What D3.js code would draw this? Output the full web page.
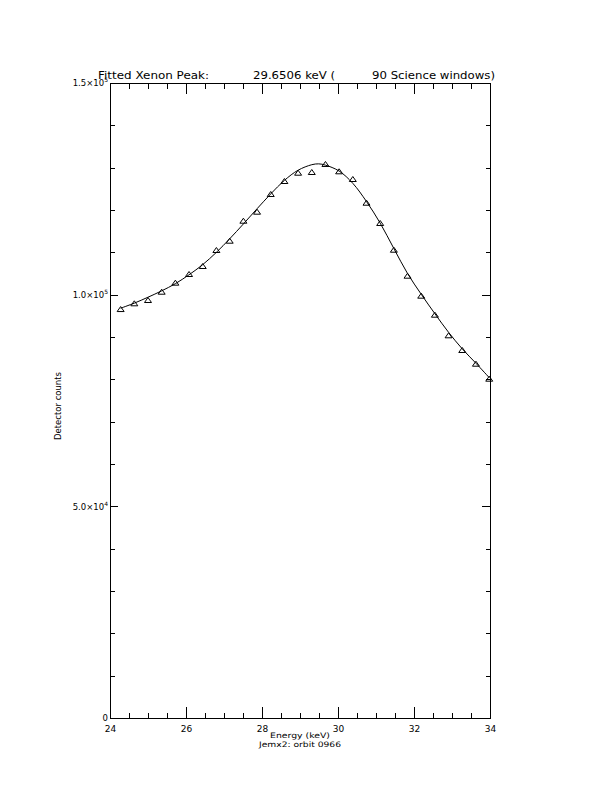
<!DOCTYPE html>
<html><head><meta charset="utf-8">
<script src="https://cdn.jsdelivr.net/npm/d3@7"></script>
<style>
body{margin:0;background:#fff;}
svg{display:block;}
text{font-family:"DejaVu Sans",sans-serif;fill:#000;}
</style></head>
<body>
<svg id="c" width="612" height="792"></svg>
<script>
// ---- data ----
const energies = [24.28,24.64,25.00,25.36,25.72,26.08,26.44,26.80,27.15,27.51,27.87,28.23,28.59,28.95,29.31,29.67,30.03,30.39,30.75,31.11,31.47,31.83,32.19,32.55,32.91,33.27,33.63,33.98];
const counts = [96600,97960,98740,100700,102830,104880,106770,110550,112750,117470,119600,123780,126850,128810,128980,130870,129140,127320,121720,116930,110620,104480,99760,95270,90400,86930,83690,80150];
const fitEnergies = [24.28,24.64,25.00,25.36,25.72,26.08,26.44,26.80,27.15,27.51,27.87,28.23,28.59,28.95,29.31,29.49,29.67,30.03,30.39,30.75,31.11,31.47,31.83,32.19,32.55,32.91,33.27,33.63,33.98];
const fitCounts = [96800,98000,99400,100900,102600,104700,107100,110000,113200,116700,120300,123800,127000,129400,130700,130900,130600,129200,126300,122000,116900,110900,105000,100100,95500,91100,87200,83800,80400];
const xMajor = [24,26,28,30,32,34];
const xMinor = [24.5,25,25.5,26.5,27,27.5,28.5,29,29.5,30.5,31,31.5,32.5,33,33.5];
const yMajor = [0,50000,100000,150000];
const yMajorLabels = [["0",""],["5.0\u00d710","4"],["1.0\u00d710","5"],["1.5\u00d710","5"]];
const yMinor = [10000,20000,30000,40000,60000,70000,80000,90000,110000,120000,130000,140000];

const svg = d3.select("#c");
const L=110,R=490,T=83,B=718;
const x = d3.scaleLinear().domain([24,34]).range([L,R]);
const y = d3.scaleLinear().domain([0,150000]).range([B,T]);

function strip(g){g.select(".domain").remove();g.selectAll("line").attr("stroke","#000").attr("shape-rendering","crispEdges");}

// bottom
const gb = svg.append("g").attr("transform",`translate(0,${B})`)
  .call(d3.axisBottom(x).tickValues(xMajor).tickSize(-11).tickPadding(7.5).tickFormat(d3.format("d")));
strip(gb); gb.selectAll("text").attr("font-size",9).attr("font-family","DejaVu Sans").attr("fill","#000");
const gbm = svg.append("g").attr("transform",`translate(0,${B})`)
  .call(d3.axisBottom(x).tickValues(xMinor).tickSize(-5.5).tickFormat(""));
strip(gbm);
// top
const gt = svg.append("g").attr("transform",`translate(0,${T})`)
  .call(d3.axisTop(x).tickValues(xMajor).tickSize(-11).tickFormat(""));
strip(gt);
const gtm = svg.append("g").attr("transform",`translate(0,${T})`)
  .call(d3.axisTop(x).tickValues(xMinor).tickSize(-5.5).tickFormat(""));
strip(gtm);
// left
const gl = svg.append("g").attr("transform",`translate(${L},0)`)
  .call(d3.axisLeft(y).tickValues(yMajor).tickSize(-8).tickPadding(2));
strip(gl);
gl.selectAll("text").attr("font-size",8.5).attr("font-family","DejaVu Sans").attr("fill","#000")
  .each(function(d,i){
    const t=d3.select(this); t.text("");
    const lab=yMajorLabels[i];
    t.append("tspan").text(lab[0]);
    if(lab[1]) t.append("tspan").attr("font-size",6).attr("dy",-4).text(lab[1]);
  });
const glm = svg.append("g").attr("transform",`translate(${L},0)`)
  .call(d3.axisLeft(y).tickValues(yMinor).tickSize(-4.5).tickFormat(""));
strip(glm);
// right
const gr = svg.append("g").attr("transform",`translate(${R},0)`)
  .call(d3.axisRight(y).tickValues(yMajor).tickSize(-8).tickFormat(""));
strip(gr);
const grm = svg.append("g").attr("transform",`translate(${R},0)`)
  .call(d3.axisRight(y).tickValues(yMinor).tickSize(-4.5).tickFormat(""));
strip(grm);

// frame
svg.append("rect").attr("x",L).attr("y",T).attr("width",R-L).attr("height",B-T)
  .attr("fill","none").attr("stroke","#000").attr("stroke-width",1).attr("shape-rendering","crispEdges");

// fit curve
const fit = fitEnergies.map((e,i)=>[e,fitCounts[i]]);
svg.append("path").datum(fit)
  .attr("d",d3.line().x(d=>x(d[0])).y(d=>y(d[1])).curve(d3.curveCatmullRom))
  .attr("fill","none").attr("stroke","#000").attr("stroke-width",1);

// data triangles
svg.append("g").selectAll("path").data(energies.map((e,i)=>[e,counts[i]])).join("path")
  .attr("transform",d=>`translate(${x(d[0])},${y(d[1])})`)
  .attr("d","M-3.5,2.5L0,-2.5L3.5,2.5Z")
  .attr("fill","none").attr("stroke","#000").attr("stroke-width",1);

// titles
function txt(s,xx,yy,size,len,anchor){
  const t=svg.append("text").attr("x",xx).attr("y",yy).attr("font-size",size).text(s);
  if(len) t.attr("textLength",len).attr("lengthAdjust","spacingAndGlyphs");
  if(anchor) t.attr("text-anchor",anchor);
  return t;
}
txt("Fitted Xenon Peak:",98,79,10.5,111);
txt("29.6506 keV (",253,79,10.5,82);
txt("90 Science windows)",372,79,10.5,123);
txt("Energy (keV)",300,737.5,7.5,60,"middle");
txt("Jemx2: orbit 0966",300,747,7.5,82,"middle");
svg.append("text").attr("transform","translate(61,406) rotate(-90)").attr("text-anchor","middle")
  .attr("font-size",8.5).attr("textLength",68).attr("lengthAdjust","spacingAndGlyphs").text("Detector counts");
</script>
</body></html>
